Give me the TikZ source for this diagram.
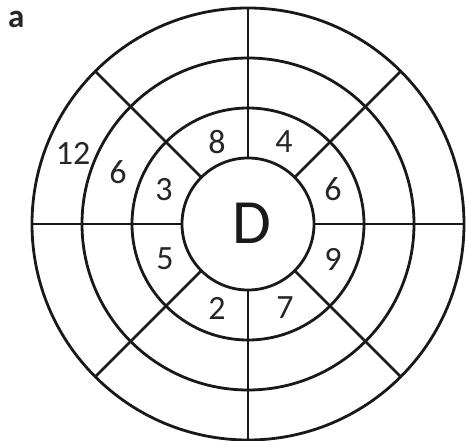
\documentclass[tikz,border=0pt]{standalone}
\usepackage{fontspec}
\setmainfont{Carlito}
\usetikzlibrary{calc}
\begin{document}
\begin{tikzpicture}[x=1pt,y=-1pt,
  ring/.style={draw=black!90,line width=2.8pt},
  spoke/.style={draw=black!90,line width=2.8pt},
  num/.style={font=\fontsize{34}{34}\selectfont,text=black!85,inner sep=0pt},
  big/.style={font=\fontsize{63}{63}\selectfont,text=black!90,inner sep=0pt},
  panel/.style={font=\bfseries\fontsize{33}{33}\selectfont,text=black!85,inner sep=0pt}]
\useasboundingbox (0,0) rectangle (466,441);
\coordinate (c) at (248,224);
\foreach \r in {216,166,116,66} \draw[ring] (c) circle[radius=\r];
\foreach \a in {0,45,...,315}
  \draw[spoke] ($(c)+(\a:66)$) -- ($(c)+(\a:216)$);
\node[big] (D) at (252,223) {D};
\node[num] (n12) at (73,153) {12};
\node[num] (n6a) at (118,172) {6};
\node[num] (n3) at (164,190) {3};
\node[num] (n8) at (217,142) {8};
\node[num] (n4) at (284,142) {4};
\node[num] (n6b) at (333,189) {6};
\node[num] (n9) at (333,259) {9};
\node[num] (n7) at (285,308) {7};
\node[num] (n2) at (217,308) {2};
\node[num] (n5) at (165,259) {5};
\node[panel,anchor=base west] (lbl) at (8,28) {a};
\end{tikzpicture}
\end{document}
